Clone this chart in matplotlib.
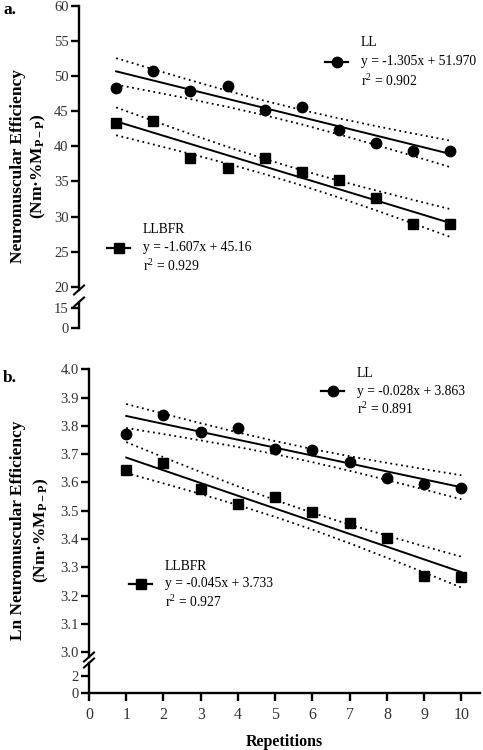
import numpy as np
import matplotlib
matplotlib.use("Agg")
import matplotlib.pyplot as plt
from matplotlib.lines import Line2D

plt.rcParams["font.family"] = ["Liberation Serif", "DejaVu Serif"]
plt.rcParams["mathtext.fontset"] = "custom"
plt.rcParams["mathtext.rm"] = "Liberation Serif"
plt.rcParams["mathtext.it"] = "Liberation Serif:italic"
plt.rcParams["mathtext.bf"] = "Liberation Serif:bold"

W, H = 483, 750

reps = np.arange(1, 11)

# panel a: neuromuscular efficiency
ne_ll = [48.35, 50.7, 47.9, 48.6, 45.1, 45.65, 42.35, 40.45, 39.3, 39.3]
ne_llbfr = [43.3, 43.6, 38.4, 36.9, 38.4, 36.4, 35.2, 32.7, 29.0, 29.0]
ne_fit = {"LL": (-1.305, 51.970, 0.902), "LLBFR": (-1.607, 45.16, 0.929)}

# panel b: ln neuromuscular efficiency
ln_ll = [3.773, 3.837, 3.777, 3.793, 3.718, 3.716, 3.674, 3.616, 3.594, 3.582]
ln_llbfr = [3.644, 3.669, 3.578, 3.523, 3.550, 3.497, 3.457, 3.402, 3.269, 3.266]
ln_fit = {"LL": (-0.028, 3.863, 0.891), "LLBFR": (-0.045, 3.733, 0.927)}

T_CRIT = 2.306  # t(0.975, df=8)
TXT = 9.8
MS = {"o": 7.5, "s": 7.8}


def fig_xy(px, py):
    return px / W, 1 - py / H


def add_axes(left, top, right, bottom):
    l, t = fig_xy(left, top)
    r, b = fig_xy(right, bottom)
    return fig.add_axes([l, b, r - l, t - b])


def style(ax, show_x=False):
    for s in ["top", "right"]:
        ax.spines[s].set_visible(False)
    ax.spines["left"].set_linewidth(1.7)
    ax.spines["bottom"].set_linewidth(1.7)
    if not show_x:
        ax.spines["bottom"].set_visible(False)
        ax.tick_params(axis="x", bottom=False, labelbottom=False)
    ax.tick_params(axis="both", length=6, width=1.7, pad=1.5,
                   labelsize=10.5, labelcolor="#333333")
    ax.patch.set_alpha(0)


def brk(ax, at_top):
    bb = ax.get_position()
    wpx, hpx = bb.width * W, bb.height * H
    dx, dy = 5 / wpx, 4.5 / hpx
    y0 = 1 if at_top else 0
    ax.plot([-dx, dx], [y0 - dy, y0 + dy], color="black", lw=1.5,
            transform=ax.transAxes, clip_on=False)


def fit_plot(ax, y, slope, icpt, marker):
    y = np.asarray(y)
    fit = slope * reps + icpt
    resid = y - fit
    s = np.sqrt(np.sum(resid ** 2) / (len(y) - 2))
    xm = reps.mean()
    sxx = np.sum((reps - xm) ** 2)
    half = T_CRIT * s * np.sqrt(1 / len(y) + (reps - xm) ** 2 / sxx)
    ax.plot(reps, fit, color="black", lw=1.4, zorder=2)
    ax.plot(reps, fit + half, color="black", lw=1.3, ls=(0, (1, 2)), zorder=2)
    ax.plot(reps, fit - half, color="black", lw=1.3, ls=(0, (1, 2)), zorder=2)
    ax.plot(reps, y, ls="none", marker=marker, ms=MS[marker], color="black",
            zorder=3)


def legend_item(px, py, marker, name, slope, icpt, r2, ndec, dy):
    x0, y0 = fig_xy(px - 12, py)
    x1, _ = fig_xy(px + 11, py)
    xm, _ = fig_xy(px, py)
    fig.add_artist(Line2D([x0, x1], [y0, y0], color="black", lw=1.6,
                          transform=fig.transFigure))
    fig.add_artist(Line2D([xm], [y0], marker=marker, ms=MS[marker],
                          color="black", transform=fig.transFigure))
    tx = px + 24
    fig.text(*fig_xy(tx, py - dy), name, fontsize=TXT, va="center")
    eq = f"y = {slope:.3f}x + {icpt:.{ndec}f}"
    fig.text(*fig_xy(tx, py), eq, fontsize=TXT, va="center")
    fig.text(*fig_xy(tx, py + dy), f"r$^2$ = {r2:.3f}", fontsize=TXT,
             va="center")


fig = plt.figure(figsize=(W / 100, H / 100), dpi=100)

# ---------- panel a ----------
ax_a = add_axes(79, 5.7, 469, 290)
ax_a.set_xlim(0, 10.5)
ax_a.set_ylim(19.57, 60)
ax_a.set_yticks(range(20, 61, 5))
style(ax_a)
fit_plot(ax_a, ne_ll, *ne_fit["LL"][:2], "o")
fit_plot(ax_a, ne_llbfr, *ne_fit["LLBFR"][:2], "s")
brk(ax_a, False)

ax_a2 = add_axes(79, 302, 469, 328)
ax_a2.set_xlim(0, 10.5)
ax_a2.set_ylim(0, 19.5)
ax_a2.set_yticks([0, 15])
style(ax_a2)
brk(ax_a2, True)

legend_item(337, 62, "o", "LL", *ne_fit["LL"], 3, 19)
legend_item(119, 248, "s", "LLBFR", *ne_fit["LLBFR"], 2, 18.5)

fig.text(*fig_xy(18, 166), "Neuromuscular Efficiency", rotation=90,
         fontsize=12.5, fontweight="bold", ha="center", va="center")
fig.text(*fig_xy(38, 166), r"(Nm·%M$_{\mathbf{P-P}}$)", rotation=90,
         fontsize=12.5, fontweight="bold", ha="center", va="center")
fig.text(*fig_xy(3, 10), "a.", fontsize=12.5, fontweight="bold", va="center")

# ---------- panel b ----------
ax_b = add_axes(89, 369.3, 480, 657)
ax_b.set_xlim(0, 10.5)
ax_b.set_ylim(2.983, 4.0)
ax_b.set_yticks(np.round(np.arange(3.0, 4.01, 0.1), 1))
ax_b.set_yticklabels([f"{v:.1f}" for v in np.arange(3.0, 4.01, 0.1)])
style(ax_b)
fit_plot(ax_b, ln_ll, *ln_fit["LL"][:2], "o")
fit_plot(ax_b, ln_llbfr, *ln_fit["LLBFR"][:2], "s")
brk(ax_b, False)

ax_b2 = add_axes(89, 663, 480, 693)
ax_b2.set_xlim(0, 10.5)
ax_b2.set_ylim(0, 3.6)
ax_b2.set_yticks([0, 2])
style(ax_b2, show_x=True)
ax_b2.set_xticks(range(0, 11))
ax_b2.tick_params(axis="x", pad=4, labelsize=11.5)
ax_b2.set_xlabel("Repetitions", fontsize=11.5, fontweight="bold", labelpad=8)
brk(ax_b2, True)

legend_item(333, 391, "o", "LL", *ln_fit["LL"], 3, 18)
legend_item(141, 584, "s", "LLBFR", *ln_fit["LLBFR"], 3, 18)

fig.text(*fig_xy(18, 530), "Ln Neuromuscular Efficiency", rotation=90,
         fontsize=12.5, fontweight="bold", ha="center", va="center")
fig.text(*fig_xy(41, 530), r"(Nm·%M$_{\mathbf{P-P}}$)", rotation=90,
         fontsize=12.5, fontweight="bold", ha="center", va="center")
fig.text(*fig_xy(3, 378), "b.", fontsize=12.5, fontweight="bold", va="center")

fig.savefig("out.png", dpi=100)
